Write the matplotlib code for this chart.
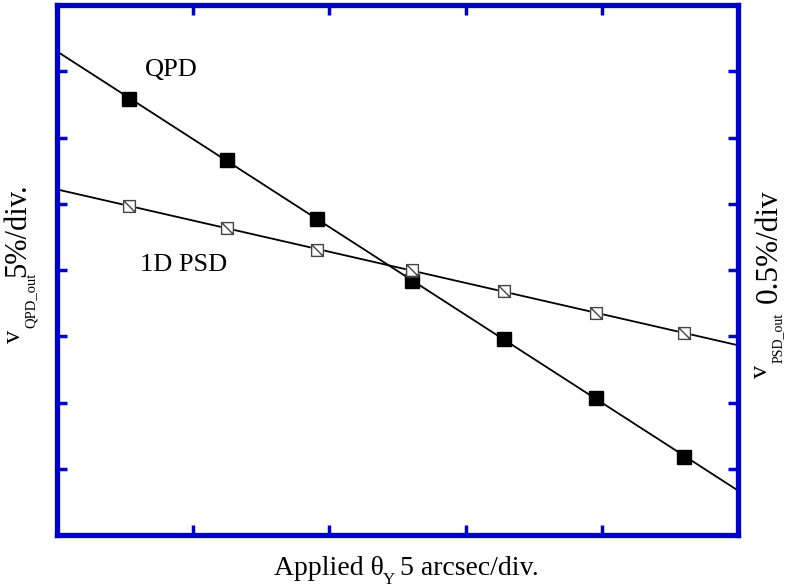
import numpy as np
import matplotlib.pyplot as plt
from matplotlib.path import Path

plt.rcParams['font.family'] = ['Liberation Serif', 'DejaVu Serif']

# applied angle, in divisions (5 arcsec/div)
theta = [0.53, 1.25, 1.91, 2.61, 3.28, 3.96, 4.60]
# QPD output, in divisions (5 %/div)
qpd = [6.58, 5.66, 4.77, 3.83, 2.96, 2.07, 1.18]
# 1D PSD output, in divisions (0.5 %/div)
psd = [4.97, 4.63, 4.30, 4.00, 3.68, 3.35, 3.05]

blue = '#0000cc'
W, H = 786, 588

# open square with a diagonal stroke
sq_diag = Path([(-1, -1), (1, -1), (1, 1), (-1, 1), (-1, -1), (-1, 1), (1, -1)],
               [Path.MOVETO, Path.LINETO, Path.LINETO, Path.LINETO, Path.CLOSEPOLY,
                Path.MOVETO, Path.LINETO])

fig = plt.figure(figsize=(W / 100, H / 100), dpi=100)
ax = fig.add_axes([57 / W, 53 / H, 681 / W, 530 / H])

# straight-line fits through each set
xf = np.array([0, 5])
for ys in (qpd, psd):
    k, b = np.polyfit(theta, ys, 1)
    ax.plot(xf, k * xf + b, color='black', lw=1.3, zorder=2)

ax.plot(theta, qpd, ls='none', marker='s', ms=9.5, color='black', zorder=3)
ax.plot(theta, psd, ls='none', marker='s', ms=8.5, mfc='white', mec='white', zorder=3)
ax.plot(theta, psd, ls='none', marker=sq_diag, ms=8.5, mfc='none', mec='#444444',
        mew=1.0, zorder=4)

ax.set_xlim(0, 5)
ax.set_ylim(0, 8)
ax.set_xticks(np.arange(1, 5))
ax.set_yticks(np.arange(1, 8))
ax.tick_params(direction='in', length=7, width=2.5, color=blue,
               top=True, right=True, labelbottom=False, labelleft=False)
for s in ax.spines.values():
    s.set_color(blue)
    s.set_linewidth(3.8)

ax.text(0.646, 6.93, 'QPD', fontsize=19, ha='left', va='baseline')
ax.text(0.609, 3.985, '1D PSD', fontsize=19, ha='left', va='baseline')


def put(px, py, s, size, rot=0):
    # text anchored at the start of its baseline, position in pixels
    fig.text(px / W, 1 - py / H, s, fontsize=size, ha='left', va='baseline',
             rotation=rot, rotation_mode='anchor')


# x axis label
put(274, 575, 'Applied θ', 20)
put(383, 584, 'Y', 12)
put(400, 575, '5 arcsec/div.', 20)

# left axis label
put(20, 343, 'v', 19, 90)
put(35, 328, 'QPD_out', 10.5, 90)
put(25, 277, '5%/div.', 22, 90)

# right axis label
put(767, 378, 'v', 19, 90)
put(782, 363, 'PSD_out', 10, 90)
put(777, 303, '0.5%/div', 22.5, 90)

plt.savefig('out.png', dpi=100)
